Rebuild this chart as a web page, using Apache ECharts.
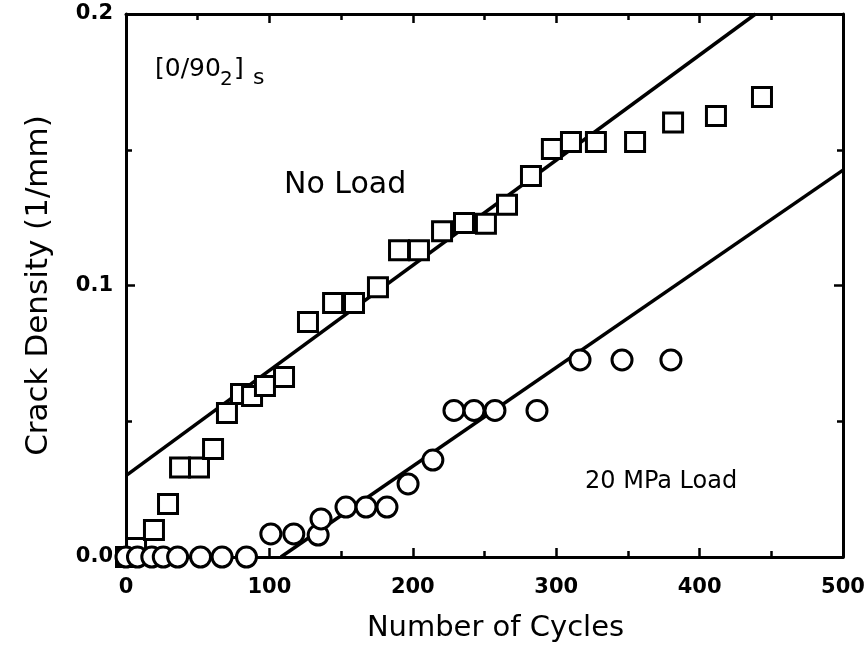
<!DOCTYPE html>
<html>
<head>
<meta charset="utf-8">
<title>Crack Density vs Number of Cycles</title>
<script src="https://cdn.jsdelivr.net/npm/echarts@6/dist/echarts.min.js"></script>
<style>
  html, body { margin: 0; padding: 0; background: #fff; }
  #chart { width: 867px; height: 645px; }
</style>
</head>
<body>
<div id="chart"></div>
<script>
// Measured crack densities, [0/90_2]s laminate
const noLoadCycles  = [0, 7, 19.5, 29.3, 37.7, 50.9, 60.7, 70.4, 80.2, 87.9, 96.9, 110.2, 126.9, 144.4, 159, 175.7, 190.4, 204.3, 220.4, 235.7, 251, 265.7, 282.4, 297, 310.3, 327.7, 355, 381.5, 411.4, 443.5];
const noLoadDensity = [0, 0.0033, 0.0099, 0.0195, 0.033, 0.033, 0.0398, 0.053, 0.060, 0.0593, 0.063, 0.0663, 0.0866, 0.0936, 0.0936, 0.0994, 0.113, 0.113, 0.120, 0.123, 0.1227, 0.1297, 0.1403, 0.1503, 0.1529, 0.1529, 0.1529, 0.160, 0.1624, 0.1694];

const loadCycles  = [0, 8, 18, 26, 36, 52, 67, 84, 101, 117, 134, 136, 153.4, 167.4, 182, 196.7, 214, 228.7, 242.7, 257.3, 286.6, 316.6, 345.9, 380];
const loadDensity = [0, 0, 0, 0, 0, 0, 0, 0, 0.0085, 0.0085, 0.0081, 0.014, 0.0184, 0.0184, 0.0184, 0.0269, 0.0357, 0.054, 0.054, 0.054, 0.054, 0.0726, 0.0726, 0.0726];

// Linear fits (end points)
const noLoadFitCycles  = [0, 439];
const noLoadFitDensity = [0.030, 0.2];
const loadFitCycles  = [108, 500];
const loadFitDensity = [0, 0.1425];

// Axis ticks
const xTicks = [0, 100, 200, 300, 400, 500];
const yTicks = [0.0, 0.1, 0.2];

const zip = (a, b) => a.map((v, i) => [v, b[i]]);

const FONT = 'DejaVu Sans';
const INK = '#000';

const tickStyle = { show: true, inside: true, length: 9, lineStyle: { color: INK, width: 2.5 } };
const minorStyle = { show: true, splitNumber: 2, length: 6, lineStyle: { color: INK, width: 2.5 } };
const lineStyle = { show: true, onZero: false, lineStyle: { color: INK, width: 3 } };
const tickLabel = { color: INK, fontFamily: FONT, fontSize: 21, fontWeight: 'bold' };

const chart = echarts.init(document.getElementById('chart'), null, { renderer: 'canvas' });

chart.setOption({
  animation: false,
  backgroundColor: '#fff',
  grid: { left: 126, right: 24, top: 14, bottom: 88, containLabel: false, outerBoundsMode: 'none' },
  xAxis: [
    {
      type: 'value', position: 'bottom',
      min: xTicks[0], max: xTicks[xTicks.length - 1], interval: 100,
      axisLine: lineStyle, axisTick: tickStyle, minorTick: minorStyle,
      splitLine: { show: false }, minorSplitLine: { show: false },
      axisLabel: Object.assign({ margin: 20 }, tickLabel),
      name: 'Number of Cycles', nameLocation: 'middle', nameGap: 57,
      nameTextStyle: { color: INK, fontFamily: FONT, fontSize: 29, padding: [0, 0, 0, 22] }
    },
    {
      type: 'value', position: 'top',
      min: xTicks[0], max: xTicks[xTicks.length - 1], interval: 100,
      axisLine: lineStyle, axisTick: tickStyle, minorTick: minorStyle,
      splitLine: { show: false }, axisLabel: { show: false }
    }
  ],
  yAxis: [
    {
      type: 'value', position: 'left',
      min: yTicks[0], max: yTicks[yTicks.length - 1], interval: 0.1,
      axisLine: lineStyle, axisTick: tickStyle, minorTick: minorStyle,
      splitLine: { show: false }, minorSplitLine: { show: false },
      axisLabel: Object.assign({ margin: 13, formatter: v => v.toFixed(1) }, tickLabel),
      name: 'Crack Density (1/mm)', nameLocation: 'middle', nameGap: 72,
      nameTextStyle: { color: INK, fontFamily: FONT, fontSize: 31 }
    },
    {
      type: 'value', position: 'right',
      min: yTicks[0], max: yTicks[yTicks.length - 1], interval: 0.1,
      axisLine: lineStyle, axisTick: tickStyle, minorTick: minorStyle,
      splitLine: { show: false }, axisLabel: { show: false }
    }
  ],
  series: [
    {
      name: 'No Load fit', type: 'line', xAxisIndex: 0, yAxisIndex: 0,
      data: zip(noLoadFitCycles, noLoadFitDensity),
      symbol: 'none', z: 1,
      lineStyle: { color: INK, width: 3.5 }
    },
    {
      name: '20 MPa Load fit', type: 'line', xAxisIndex: 0, yAxisIndex: 0,
      data: zip(loadFitCycles, loadFitDensity),
      symbol: 'none', z: 1,
      lineStyle: { color: INK, width: 3.5 }
    },
    {
      name: 'No Load', type: 'scatter', xAxisIndex: 0, yAxisIndex: 0,
      data: zip(noLoadCycles, noLoadDensity),
      symbol: 'rect', symbolSize: 19, clip: false, z: 3,
      itemStyle: { color: '#fff', borderColor: INK, borderWidth: 3, opacity: 1 }
    },
    {
      name: '20 MPa Load', type: 'scatter', xAxisIndex: 0, yAxisIndex: 0,
      data: zip(loadCycles, loadDensity),
      symbol: 'circle', symbolSize: 20, clip: false, z: 4,
      itemStyle: { color: '#fff', borderColor: INK, borderWidth: 3, opacity: 1 }
    }
  ],
  graphic: [
    { type: 'text', left: 155, top: 57, style: { text: '[0/90', font: '25px "DejaVu Sans"', fill: INK } },
    { type: 'text', left: 220, top: 70, style: { text: '2', font: '20px "DejaVu Sans"', fill: INK } },
    { type: 'text', left: 234, top: 57, style: { text: ']', font: '25px "DejaVu Sans"', fill: INK } },
    { type: 'text', left: 253, top: 67, style: { text: 's', font: '22px "DejaVu Sans"', fill: INK } },
    { type: 'text', left: 284, top: 170, style: { text: 'No Load', font: '30px "DejaVu Sans"', fill: INK } },
    { type: 'text', left: 585, top: 470, style: { text: '20 MPa Load', font: '24px "DejaVu Sans"', fill: INK } }
  ]
});
</script>
</body>
</html>
